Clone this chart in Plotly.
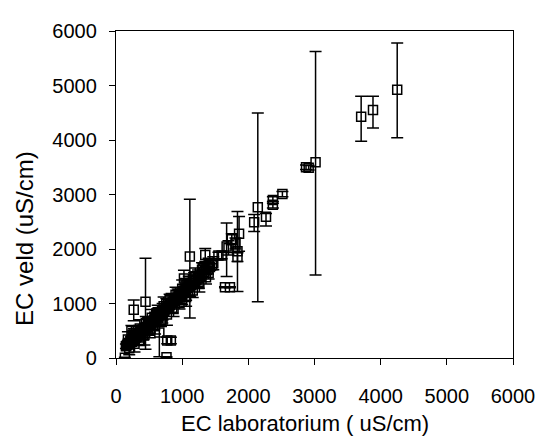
import plotly.graph_objects as go

# EC measured in the lab (x) vs EC measured in the field (y), uS/cm
ec_lab = [
    150, 165, 180, 190, 200, 210, 220, 230, 245, 255, 265, 280, 290, 300, 315,
    325, 340, 350, 360, 375, 390, 400, 415, 430, 440, 455, 470, 485, 500, 515,
    530, 545, 560, 575, 590, 605, 620, 640, 655, 670, 690, 705, 720, 740, 760,
    780, 800, 820, 840, 860, 880, 900, 920, 945, 965, 990, 1010, 1035, 1060,
    1085, 1110, 1135, 1160, 1190, 1215, 1240, 1270, 1300, 1330, 1360, 1390,
    1420, 1450,
    260, 330, 410, 480, 560, 620, 700, 760, 850, 930, 1000, 1050, 1120, 1180,
    1250, 1320, 1400, 1470,
    200, 280, 350, 430, 510, 590, 680, 770, 870, 960, 1060, 1160, 1260, 1360,
    180, 270, 360, 450, 540, 630, 720, 810, 900, 1000, 1100, 1200, 1300, 1400,
    4250, 3705, 3884, 3016, 2872, 2912, 2143, 2088, 2267, 2371, 2371, 2515,
    1860, 1836, 1806, 1836, 1672, 1647, 1722, 1548, 1597, 1116, 446, 268, 233,
    655, 763, 774, 829, 134, 1027, 1349, 1750, 1700,
]
ec_veld = [
    215, 235, 250, 265, 270, 285, 300, 305, 325, 330, 350, 365, 370, 390, 400,
    420, 425, 445, 455, 470, 490, 495, 515, 530, 545, 560, 575, 600, 610, 635,
    650, 665, 680, 705, 720, 735, 755, 775, 795, 810, 835, 850, 870, 890, 915,
    935, 960, 985, 1005, 1030, 1050, 1075, 1100, 1125, 1150, 1180, 1200, 1230,
    1260, 1290, 1315, 1345, 1375, 1410, 1440, 1465, 1500, 1535, 1570, 1605,
    1640, 1670, 1705,
    420, 500, 430, 520, 600, 820, 760, 990, 920, 1180, 1080, 1330, 1230, 1460,
    1380, 1640, 1560, 1740,
    180, 260, 330, 420, 500, 600, 700, 800, 900, 1010, 1120, 1240, 1360, 1480,
    340, 430, 540, 640, 740, 840, 950, 1060, 1160, 1270, 1380, 1500, 1620, 1720,
    4920, 4425, 4550, 3594, 3500, 3490, 2764, 2491, 2592, 2900, 2811, 3007,
    2278, 1957, 2100, 1851, 2046, 1299, 1299, 1881, 1881, 1863, 1032, 884, 498,
    468, 12, 320, 320, 5, 1459, 1891, 2180, 2020,
]
err_plus = [
    40, 60, 50, 80, 40, 60, 50, 90, 40, 60, 120, 50, 70, 40, 90,
    60, 50, 150, 40, 70, 60, 50, 90, 40, 60, 80, 50, 140, 60, 70,
    40, 90, 60, 50, 120, 60, 80, 50, 70, 60, 90, 150, 60, 50, 80,
    60, 70, 50, 180, 60, 50, 90, 60, 120, 70, 50, 60, 90, 200, 60,
    80, 70, 50, 100, 60, 150, 80, 60, 90, 70, 100, 60, 80,
    90, 80, 100, 90, 100, 80, 120, 100, 90, 110, 100, 120, 100, 110,
    100, 90, 110, 120,
    120, 150, 100, 180, 130, 160, 120, 200, 140, 110, 170, 130, 150, 120,
    140, 110, 160, 120, 150, 130, 170, 110, 140, 160, 120, 150, 130, 110,
    860, 380, 255, 2030, 40, 40, 1730, 140, 60, 60, 60, 50,
    320, 730, 100, 80, 430, 10, 10, 60, 60, 1050, 800, 180, 100,
    250, 10, 60, 60, 10, 150, 120, 100, 130,
]
err_minus = [
    40, 60, 50, 80, 40, 60, 50, 90, 40, 60, 120, 50, 70, 40, 90,
    60, 50, 150, 40, 70, 60, 50, 90, 40, 60, 80, 50, 140, 60, 70,
    40, 90, 60, 50, 120, 60, 80, 50, 70, 60, 90, 150, 60, 50, 80,
    60, 70, 50, 180, 60, 50, 90, 60, 120, 70, 50, 60, 90, 200, 60,
    80, 70, 50, 100, 60, 150, 80, 60, 90, 70, 100, 60, 80,
    90, 80, 100, 90, 100, 80, 120, 100, 90, 110, 100, 120, 100, 110,
    100, 90, 110, 120,
    120, 150, 100, 180, 130, 160, 120, 200, 140, 110, 170, 130, 150, 120,
    140, 110, 160, 120, 150, 130, 170, 110, 140, 160, 120, 150, 130, 110,
    880, 450, 330, 2070, 40, 40, 1730, 170, 170, 60, 60, 50,
    320, 735, 100, 80, 550, 10, 10, 60, 60, 1130, 870, 200, 100,
    445, 10, 60, 60, 10, 150, 120, 100, 130,
]
tick_vals = [0, 1000, 2000, 3000, 4000, 5000, 6000]

fig = go.Figure(go.Scatter(
    x=ec_lab, y=ec_veld, mode="markers",
    marker=dict(symbol="square-open", size=9, color="black",
                line=dict(width=1.5, color="black")),
    error_y=dict(type="data", array=err_plus, arrayminus=err_minus,
                 symmetric=False, color="black", thickness=1.5, width=6),
    showlegend=False,
))

axis_style = dict(
    range=[0, 6000], tickvals=tick_vals, showgrid=False, zeroline=False,
    showline=True, linecolor="black", linewidth=1.3, mirror=True,
    ticks="outside", ticklen=6, tickcolor="black", tickwidth=1,
    tickfont=dict(family="Liberation Sans, Arial", size=20, color="black"),
)
fig.update_xaxes(**axis_style, ticklabelstandoff=14)
fig.update_yaxes(**axis_style, ticklabelstandoff=8)

# the page body adds an 8px offset, so the figure is 8px smaller on each side
fig.update_layout(
    width=539, height=440,
    margin=dict(l=108, r=28, t=13, b=90),
    paper_bgcolor="white", plot_bgcolor="white",
    font=dict(family="Liberation Sans, Arial", size=20, color="black"),
    annotations=[
        dict(text="EC laboratorium ( uS/cm)", xref="paper", yref="paper",
             x=0.475, y=-0.199, yanchor="middle", showarrow=False,
             font=dict(size=22)),
        dict(text="EC veld (uS/cm)", xref="paper", yref="paper",
             x=-0.231, y=0.365, textangle=-90, xanchor="center",
             yanchor="middle", showarrow=False, font=dict(size=24)),
    ],
)

fig.write_html("out.html")
